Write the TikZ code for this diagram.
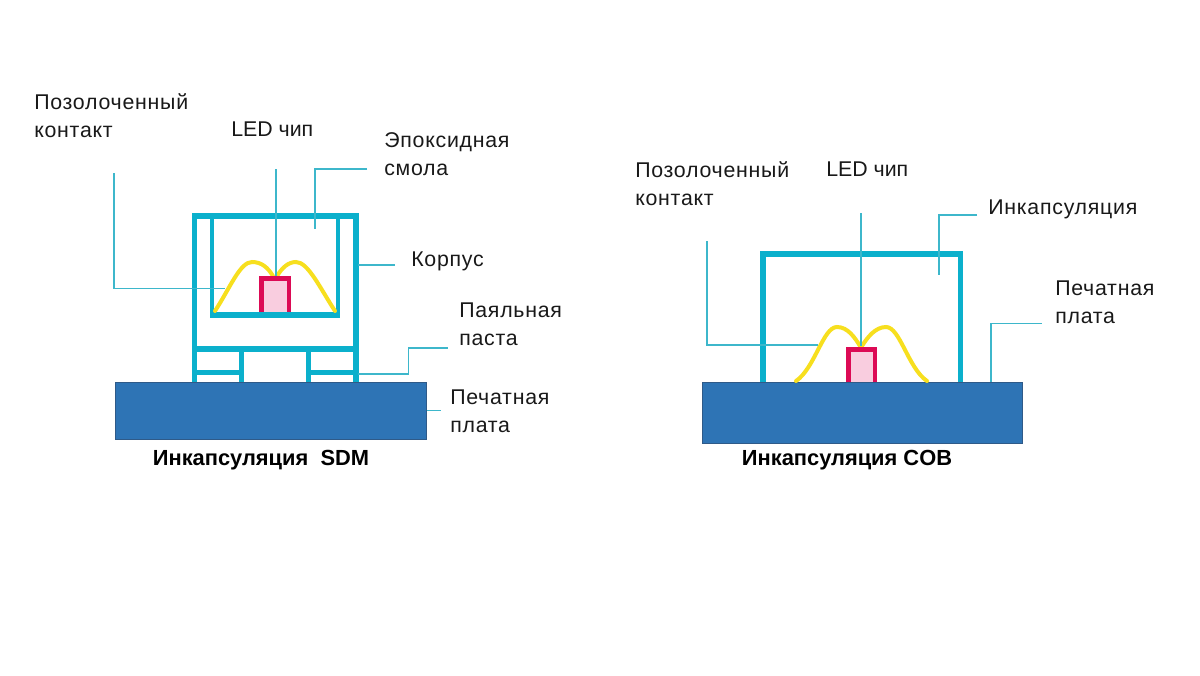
\documentclass[tikz,border=0pt]{standalone}
\usepackage{fontspec}
\setmainfont{Liberation Sans}
\newfontfamily\widefont[LetterSpace=3.5]{Liberation Sans}
\definecolor{caseblue}{HTML}{0BB0CC}
\definecolor{leader}{HTML}{3DB7CB}
\definecolor{pcbfill}{HTML}{2E74B5}
\definecolor{pcbedge}{HTML}{2F5A88}
\definecolor{wire}{HTML}{F7DF1E}
\definecolor{chipedge}{HTML}{DC0A55}
\definecolor{chipfill}{HTML}{F9CDDF}
\tikzset{
 x=0.75pt,y=-0.75pt,
 housing/.style={draw=caseblue,line width=3.9pt,line cap=butt,line join=miter},
 topbar/.style={draw=caseblue,line width=4.7pt},
 thinpart/.style={draw=caseblue,line width=3.7pt},
 pointer/.style={draw=leader,line width=1.4pt},
 goldwire/.style={draw=wire,line width=3pt,line cap=round},
 chip/.style={draw=chipedge,fill=chipfill,line width=3.3pt},
 board/.style={draw=pcbedge,fill=pcbfill,line width=0.7pt},
 lbl/.style={font=\widefont\fontsize{16}{21}\selectfont,align=left,anchor=north west,inner sep=0pt,text=black!90},
 lblplain/.style={lbl,font=\fontsize{16}{21}\selectfont},
 captiontext/.style={font=\bfseries\fontsize{16.4}{18}\selectfont,anchor=center,inner sep=0pt,text=black},
}
\begin{document}
\begin{tikzpicture}
\useasboundingbox (0,0) rectangle (1200,675);
\fill[white] (0,0) rectangle (1200,675);
% SDM
\draw[housing] (194.5,382) -- (194.5,216) -- (356,216) -- (356,382);
\draw[thinpart] (212,216) -- (212,315) -- (338,315) -- (338,216);
\draw[topbar] (192,216) -- (358.5,216);
\draw[topbar] (210,315) -- (340,315);
\draw[topbar] (194.5,349) -- (356,349);
\draw[thinpart] (241.5,349) -- (241.5,382);
\draw[thinpart] (308.5,349) -- (308.5,382);
\draw[thinpart] (194.5,372.5) -- (241.5,372.5);
\draw[thinpart] (308.5,372.5) -- (356,372.5);
\node[board,minimum width=311*0.75pt,minimum height=57*0.75pt,inner sep=0pt,anchor=north west] (pcbA) at (115,382) {};
\draw[goldwire] (215,311) .. controls (230,288) and (240,262) .. (252,262) .. controls (262,262) and (268,268) .. (273,276);
\draw[goldwire] (335,311) .. controls (320,288) and (308,262) .. (296,262) .. controls (288,262) and (282,268) .. (277,276);
\draw[chip] (261.5,312) -- (261.5,278.5) -- (289,278.5) -- (289,312);
% COB
\draw[housing] (763,382) -- (763,254) -- (960.5,254) -- (960.5,382);
\draw[topbar] (760.5,254) -- (963,254);
\node[board,minimum width=320*0.75pt,minimum height=61*0.75pt,inner sep=0pt,anchor=north west] (pcbB) at (702,382) {};
\draw[goldwire] (796,381) .. controls (815,368) and (823,327) .. (837,327) .. controls (848,327) and (855,338) .. (860,346);
\draw[goldwire] (927,381) .. controls (908,368) and (900,327) .. (886,327) .. controls (875,327) and (867,338) .. (862,346);
\draw[chip] (848.5,382) -- (848.5,349.5) -- (875,349.5) -- (875,382);
% labels
\node[lbl] (a1) at (34,93) {Позолоченный\\контакт};
\node[lblplain] (a2) at (231,122) {LED чип};
\node[lbl] (a3) at (384,132) {Эпоксидная\\смола};
\node[lbl] (a4) at (411,252) {Корпус};
\node[lbl] (a5) at (459,303) {Паяльная\\паста};
\node[lbl] (a6) at (450,390) {Печатная\\плата};
\node[captiontext] (ca) at (261,460) {Инкапсуляция\ \ SDM};
\node[lbl] (b1) at (635,161) {Позолоченный\\контакт};
\node[lblplain] (b2) at (826,162) {LED чип};
\node[lbl] (b3) at (988,200) {Инкапсуляция};
\node[lbl] (b4) at (1055,281) {Печатная\\плата};
\node[captiontext] (cb) at (847,460) {Инкапсуляция COB};
% leaders
\coordinate (p1) at (114,173); \coordinate (p1e) at (225,288.5);
\draw[pointer] (p1) |- (p1e);
\coordinate (p2) at (276,169); \coordinate (p2e) at (276,276);
\draw[pointer] (p2) -- (p2e);
\coordinate (p3) at (367,169); \coordinate (p3e) at (315,229);
\draw[pointer] (p3) -| (p3e);
\coordinate (p4) at (358,265); \coordinate (p4e) at (395,265);
\draw[pointer] (p4) -- (p4e);
\coordinate (p5) at (358,374); \coordinate (p5m) at (408.5,374); \coordinate (p5e) at (448,348);
\draw[pointer] (p5) -- (p5m) |- (p5e);
\coordinate (p6e) at (441,410.5);
\draw[pointer] (pcbA.east |- p6e) -- (p6e);
\coordinate (q1) at (707,241); \coordinate (q1e) at (818,345);
\draw[pointer] (q1) |- (q1e);
\coordinate (q2) at (861,213); \coordinate (q2e) at (861,346);
\draw[pointer] (q2) -- (q2e);
\coordinate (q3) at (977,215); \coordinate (q3e) at (939,275);
\draw[pointer] (q3) -| (q3e);
\coordinate (q4) at (991,382); \coordinate (q4e) at (1042,323.5);
\draw[pointer] (q4) |- (q4e);
\end{tikzpicture}
\end{document}
